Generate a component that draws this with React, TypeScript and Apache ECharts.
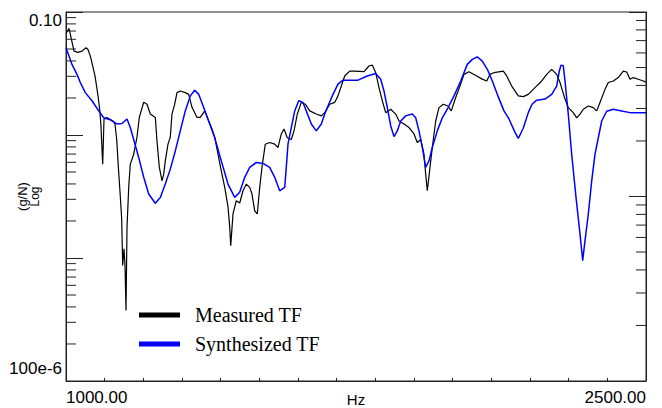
import React, { useEffect, useRef } from "react";
import * as echarts from "echarts";

const X_MIN = 1000;
const X_MAX = 2500;
const X_INTERVAL = 100;
const Y_MIN = 1e-4;
const Y_MAX = 0.1;
const R_MIN = 0.1;
const R_MAX = 10;

const xLabels: Record<number, string> = { 1000: "1000.00", 2500: "2500.00" };
const yTopLabel = "0.10";
const yBottomLabel = "100e-6";
const yTitleUnit = "(g/N)";
const yTitleScale = "Log";

const seriesNames = ["Measured TF", "Synthesized TF"];

const measuredHz = [
  1000, 1007.8, 1020.7, 1031, 1041.4, 1051.7, 1056.9, 1063.9, 1075, 1082.8, 1087.9, 1090.5, 1092.3, 1094.9,
  1098.3, 1105.3, 1121.6, 1126.7, 1131.1, 1135.3, 1139.7, 1144, 1146.6, 1150, 1152.6, 1155.2, 1157.8, 1162.2,
  1166.3, 1175.1, 1183.6, 1189.6, 1201, 1209.5, 1218, 1231, 1235.3, 1241.3, 1248.3, 1252.7, 1256.8, 1263.8,
  1269.7, 1274.1, 1281.1, 1287.1, 1295.6, 1308.5, 1317.3, 1325.9, 1338.8, 1347.3, 1358.7, 1369, 1377.6, 1384.6,
  1393.1, 1401.6, 1410.4, 1419, 1423.4, 1426, 1431.9, 1440.4, 1449.2, 1457.8, 1466.3, 1475.1, 1481, 1488,
  1494.7, 1501, 1506.9, 1515.4, 1526.8, 1539.7, 1548.3, 1556.8, 1563.8, 1572.3, 1582.7, 1589.7, 1598.2, 1608.5,
  1618.9, 1630.3, 1647.3, 1660.3, 1669.1, 1682, 1694.9, 1703.4, 1712, 1720.8, 1733.7, 1746.6, 1770.7, 1783.6,
  1792.2, 1801, 1809.5, 1818, 1826.8, 1839.7, 1852.7, 1861.2, 1874.2, 1887.1, 1900, 1908.5, 1917.3, 1925.8,
  1930.2, 1934.4, 1941.4, 1947.3, 1956.1, 1964.6, 1975.8, 1987.9, 1996.4, 2007.8, 2018.9, 2029.3, 2042.2, 2062.1,
  2075.1, 2088, 2096.6, 2106.9, 2131, 2139.8, 2152.7, 2169.8, 2182.7, 2195.6, 2212.9, 2230.3, 2243.2, 2256.1,
  2269, 2277.6, 2290.5, 2299, 2312, 2320.8, 2329.3, 2337.9, 2350.8, 2363.7, 2372.5, 2381, 2394, 2402.5,
  2415.4, 2428.4, 2441.3, 2450.1, 2458.6, 2467.2, 2480.1, 2493, 2500,
];
const measuredVal = [
  0.067, 0.0735, 0.0481, 0.047, 0.0481, 0.0512, 0.0496, 0.0428, 0.0302, 0.0208, 0.0153, 0.0118, 0.00874, 0.0058,
  0.01345, 0.0139, 0.013, 0.01226, 0.00924, 0.00553, 0.00344, 0.00208, 0.000868, 0.00119, 0.000868, 0.000374, 0.00179, 0.00377,
  0.0058, 0.00698, 0.0096, 0.0139, 0.01846, 0.0178, 0.0148, 0.0139, 0.00896, 0.00548, 0.00424, 0.00481, 0.00616, 0.00842,
  0.0096, 0.0148, 0.0178, 0.0221, 0.0228, 0.0221, 0.0214, 0.0168, 0.0139, 0.0139, 0.0157, 0.013, 0.0112, 0.0096,
  0.00698, 0.00512, 0.00377, 0.0026, 0.00179, 0.00126, 0.00228, 0.00292, 0.0028, 0.00352, 0.00399, 0.00375, 0.00331, 0.00242,
  0.00228, 0.00375, 0.00548, 0.00842, 0.00869, 0.00842, 0.00792, 0.0102, 0.0112, 0.0095, 0.0092, 0.0108, 0.0148, 0.0184,
  0.0178, 0.0157, 0.0148, 0.0143, 0.0152, 0.0178, 0.0184, 0.0208, 0.025, 0.0302, 0.0331, 0.0331, 0.0327, 0.0364,
  0.037, 0.0321, 0.0243, 0.019, 0.0152, 0.0162, 0.0148, 0.013, 0.0123, 0.0115, 0.0102, 0.00869, 0.0092, 0.00698,
  0.00481, 0.00352, 0.00545, 0.00792, 0.013, 0.0167, 0.0178, 0.0172, 0.0157, 0.0202, 0.025, 0.0311, 0.0327, 0.0302,
  0.0286, 0.0275, 0.0311, 0.0321, 0.0331, 0.0302, 0.025, 0.0208, 0.0205, 0.0214, 0.0243, 0.0275, 0.0311, 0.0342,
  0.0311, 0.0267, 0.0196, 0.0167, 0.0152, 0.0138, 0.0148, 0.0162, 0.0172, 0.0167, 0.0157, 0.0184, 0.0235, 0.0267,
  0.0275, 0.0293, 0.0331, 0.0325, 0.0284, 0.0293, 0.0284, 0.0275, 0.0269,
];

const synthHz = [
  1000, 1015.5, 1028.4, 1037, 1049.9, 1067.2, 1084.6, 1097.5, 1114.6, 1131.9, 1144.8, 1157.8, 1166.3, 1175.1,
  1188, 1201, 1213.9, 1230.9, 1243.9, 1256.8, 1269.7, 1282.7, 1295.6, 1308.5, 1321.5, 1332.8, 1343.2, 1356.1,
  1369, 1384.6, 1401.6, 1419, 1436.3, 1449.2, 1462.2, 1475.1, 1492.2, 1509.5, 1526.8, 1539.7, 1552.7, 1565.6,
  1569.7, 1574.1, 1582.7, 1591.5, 1601.8, 1612.9, 1621.5, 1634.4, 1647.3, 1660.3, 1669.1, 1679.4, 1690.5, 1703.4,
  1716.4, 1755.2, 1779.2, 1800.9, 1813.9, 1822.4, 1831, 1839.7, 1848.3, 1856.8, 1865.6, 1878.5, 1895.6, 1904.4,
  1912.9, 1921.5, 1930.2, 1938.8, 1947.3, 1960.3, 1973.2, 1986.1, 2003.4, 2020.8, 2037.8, 2050.8, 2063.7, 2076.6,
  2089.6, 2102.5, 2115.4, 2132.7, 2145.7, 2161.2, 2169.8, 2182.7, 2195.6, 2205.2, 2217.3, 2238.8, 2256.1, 2269,
  2275.8, 2280.2, 2286.1, 2290.5, 2299, 2307.8, 2319, 2329.3, 2336.3, 2342.2, 2350.8, 2359.6, 2368.1, 2376.7,
  2385.4, 2398.3, 2415.4, 2437.1, 2458.6, 2500,
];
const synthVal = [
  0.0512, 0.0375, 0.0311, 0.0267, 0.0221, 0.019, 0.0157, 0.0138, 0.0133, 0.0123, 0.0124, 0.0135, 0.0115, 0.0092,
  0.00657, 0.00453, 0.00331, 0.00279, 0.00311, 0.00399, 0.00528, 0.00742, 0.0108, 0.0157, 0.0208, 0.0231, 0.0214, 0.0167,
  0.013, 0.0095, 0.00616, 0.00399, 0.00311, 0.00342, 0.00453, 0.00545, 0.00598, 0.00587, 0.00545, 0.00453, 0.00352, 0.00375,
  0.00545, 0.00842, 0.0115, 0.0157, 0.019, 0.0184, 0.0157, 0.0123, 0.0108, 0.0123, 0.0148, 0.0178, 0.0214, 0.0259,
  0.0279, 0.0279, 0.0302, 0.0316, 0.0284, 0.0228, 0.0167, 0.0119, 0.0097, 0.0108, 0.013, 0.0143, 0.0148, 0.0138,
  0.0108, 0.00792, 0.00545, 0.00616, 0.00792, 0.0108, 0.0138, 0.0162, 0.0208, 0.0275, 0.0375, 0.0412, 0.0432, 0.0399,
  0.0342, 0.0275, 0.0214, 0.0157, 0.0135, 0.0105, 0.00937, 0.0114, 0.0152, 0.0178, 0.0192, 0.0196, 0.0214, 0.025,
  0.0331, 0.037, 0.0365, 0.0275, 0.0148, 0.00698, 0.00311, 0.00157, 0.000953, 0.00138, 0.00228, 0.00424, 0.00698, 0.0095,
  0.013, 0.0156, 0.0162, 0.0157, 0.0152, 0.0152,
];

const leftMinorTicks = [
  2e-4, 3e-4, 4e-4, 5e-4, 6e-4, 7e-4, 8e-4, 9e-4,
  2e-3, 3e-3, 4e-3, 5e-3, 6e-3, 7e-3, 8e-3, 9e-3,
  2e-2, 3e-2, 4e-2, 5e-2, 6e-2, 7e-2, 8e-2, 9e-2,
];
const rightMinorTicks = [0.2, 0.3, 0.4, 0.5, 0.6, 0.7, 0.8, 0.9, 2, 3, 4, 5, 6, 7, 8, 9];

const AXIS_COLOR = "#222";
const SANS = "'Liberation Sans', Arial, sans-serif";
const SERIF = "'Liberation Serif', 'Times New Roman', serif";

function near(a: number, b: number) {
  return Math.abs(a - b) <= Math.abs(b) * 1e-6;
}

export default function App() {
  const ref = useRef<HTMLDivElement>(null);
  useEffect(() => {
    if (!ref.current) return;
    const chart = echarts.init(ref.current, undefined, { renderer: "svg" });
    const minorTickSeries = (ticks: number[], yAxisIndex: number, xVal: number, dir: number) => ({
      type: "custom",
      silent: true,
      clip: false,
      xAxisIndex: 0,
      yAxisIndex,
      encode: { x: 0, y: 1 },
      data: ticks.map((v) => [xVal, v]),
      renderItem: (_p: any, api: any) => {
        const pt = api.coord([api.value(0), api.value(1)]);
        return {
          type: "line",
          shape: { x1: pt[0], y1: pt[1], x2: pt[0] + dir * 10, y2: pt[1] },
          style: { stroke: AXIS_COLOR, lineWidth: 1 },
        };
      },
      z: 5,
    });
    chart.setOption({
      animation: false,
      backgroundColor: "#fff",
      grid: {
        left: 66,
        right: 16,
        top: 12,
        bottom: 27,
        show: true,
        borderColor: AXIS_COLOR,
        borderWidth: 1,
        containLabel: false,
        outerBoundsMode: "none",
      },
      legend: {
        data: seriesNames,
        orient: "vertical",
        left: 134,
        top: 300,
        icon: "rect",
        itemWidth: 41,
        itemHeight: 5,
        itemGap: 9,
        textStyle: {
          fontFamily: SERIF,
          fontSize: 20,
          color: "#000",
          padding: [0, 0, 0, 10],
        },
      },
      xAxis: {
        type: "value",
        min: X_MIN,
        max: X_MAX,
        interval: X_INTERVAL,
        name: "Hz",
        nameLocation: "middle",
        nameGap: 11,
        nameMoveOverlap: false,
        nameTextStyle: { fontFamily: SANS, fontSize: 15, color: "#000", verticalAlign: "top" },
        axisLine: { lineStyle: { color: AXIS_COLOR, width: 1 } },
        axisTick: { inside: true, length: 3, lineStyle: { color: AXIS_COLOR } },
        splitLine: { show: false },
        axisLabel: {
          fontFamily: SANS,
          fontSize: 17,
          color: "#000",
          margin: 8,
          showMinLabel: true,
          showMaxLabel: true,
          alignMinLabel: "left",
          alignMaxLabel: "right",
          formatter: (v: number) => xLabels[Math.round(v)] ?? "",
        },
      },
      yAxis: [
        {
          type: "log",
          logBase: 10,
          min: Y_MIN,
          max: Y_MAX,
          position: "left",
          name: "{a|" + yTitleUnit + "}\n{b|" + yTitleScale + "}",
          nameLocation: "middle",
          nameRotate: 90,
          nameGap: 25,
          nameMoveOverlap: false,
          nameTextStyle: {
            rich: {
              a: { fontFamily: SANS, fontSize: 13, color: "#000", lineHeight: 13 },
              b: { fontFamily: SANS, fontSize: 12, color: "#000", lineHeight: 12 },
            },
          },
          axisLine: { show: true, lineStyle: { color: AXIS_COLOR, width: 1 } },
          axisTick: { inside: true, length: 17, lineStyle: { color: AXIS_COLOR } },
          splitLine: { show: false },
          axisLabel: {
            fontFamily: SANS,
            fontSize: 17,
            color: "#000",
            margin: 4,
            showMinLabel: true,
            showMaxLabel: true,
            verticalAlignMinLabel: "bottom",
            verticalAlignMaxLabel: "top",
            formatter: (v: number) =>
              near(v, Y_MAX) ? yTopLabel : near(v, Y_MIN) ? "{lo|" + yBottomLabel + "}" : "",
            rich: {
              lo: { fontFamily: SANS, fontSize: 17, color: "#000", padding: [0, 0, 4, 0] },
            },
          },
        },
        {
          type: "log",
          logBase: 10,
          min: R_MIN,
          max: R_MAX,
          position: "right",
          axisLine: { show: true, lineStyle: { color: AXIS_COLOR, width: 1 } },
          axisTick: { inside: true, length: 17, lineStyle: { color: AXIS_COLOR } },
          splitLine: { show: false },
          axisLabel: { show: false },
        },
      ],
      series: [
        {
          name: seriesNames[0],
          type: "line",
          showSymbol: false,
          color: "#000",
          lineStyle: { color: "#000", width: 1.2 },
          data: measuredHz.map((h, i) => [h, measuredVal[i]]),
          z: 3,
        },
        {
          name: seriesNames[1],
          type: "line",
          showSymbol: false,
          color: "#0000ff",
          lineStyle: { color: "#0000ff", width: 1.5 },
          data: synthHz.map((h, i) => [h, synthVal[i]]),
          z: 4,
        },
        minorTickSeries(leftMinorTicks, 0, X_MIN, 1),
        minorTickSeries(rightMinorTicks, 1, X_MAX, -1),
      ],
    });
    return () => chart.dispose();
  }, []);
  return <div ref={ref} style={{ position: "fixed", left: 0, top: 0, width: 662, height: 408 }} />;
}
